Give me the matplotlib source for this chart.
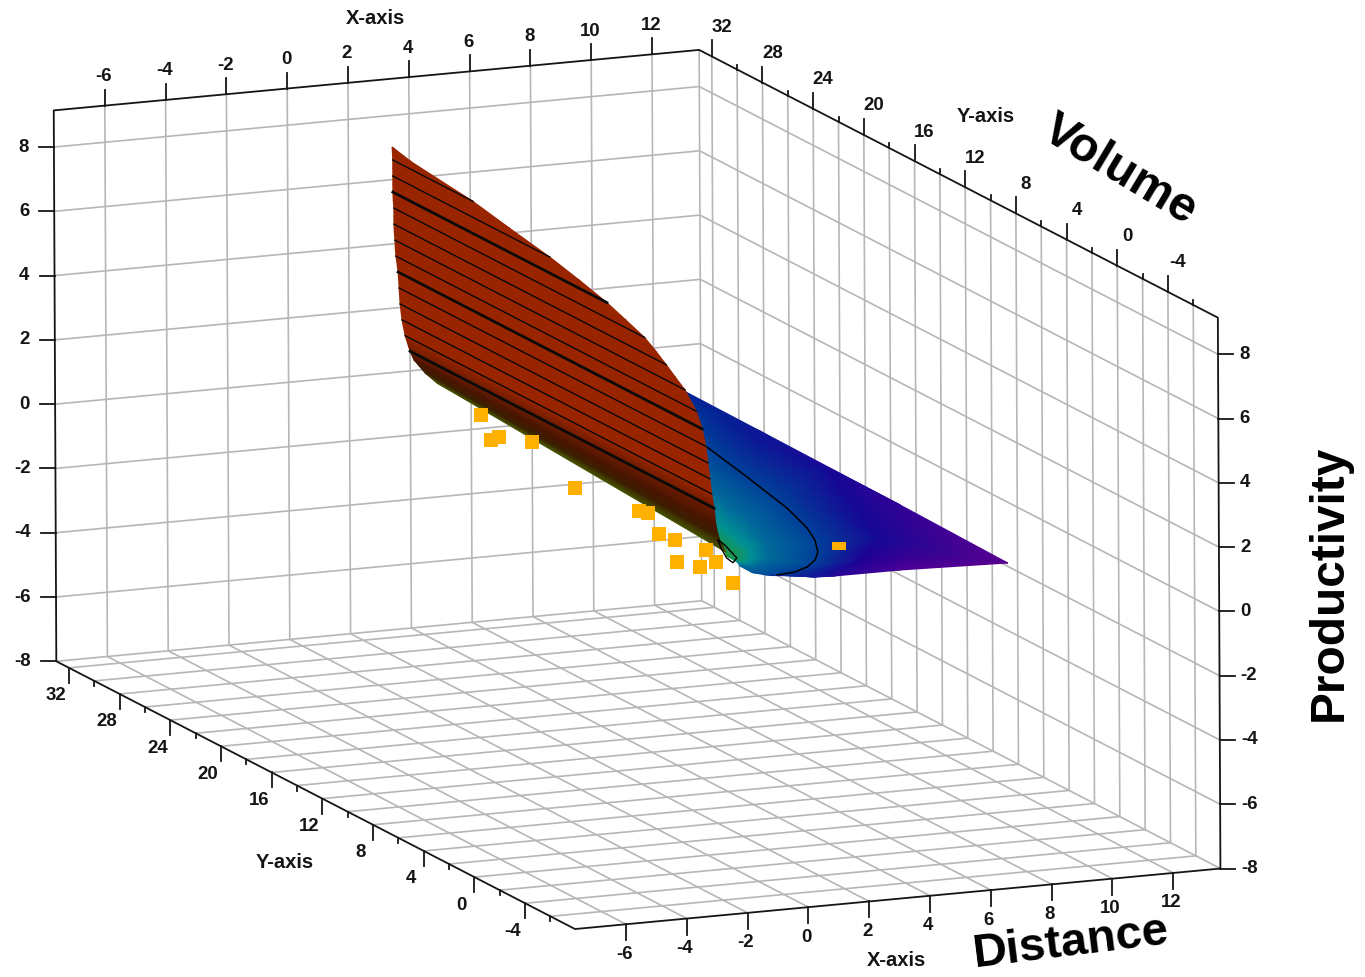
import numpy as np
import matplotlib
matplotlib.use('Agg')
import matplotlib.pyplot as plt
from matplotlib.colors import LinearSegmentedColormap, Normalize

plt.rcParams['font.family'] = ['Liberation Sans', 'DejaVu Sans']

# Axis ranges and ticks
x_min, x_max = -7.68, 13.55
y_min, y_max = -7.94, 33.0
z_min, z_max = -8.0, 9.14
x_ticks = [-6, -4, -2, 0, 2, 4, 6, 8, 10, 12]
y_major = [32, 28, 24, 20, 16, 12, 8, 4, 0, -4]
y_minor = [30, 26, 22, 18, 14, 10, 6, 2, -2, -6]
z_ticks = [-8, -6, -4, -2, 0, 2, 4, 6, 8]

# Upper sheet: one row per height, each row runs along y
sheet_z = [7.9, 7.75, 7.5, 7.25, 7.0, 6.75, 6.5, 6.25, 6.0, 5.75, 5.5, 5.25, 5.0, 4.75, 4.5,
           4.0, 3.5, 3.0, 2.5, 2.0, 1.5, 1.25, 1.1, 1.0]
sheet_x_left = [1.90, 1.91, 1.92, 1.92, 1.92, 1.92, 1.92, 1.93, 1.95, 1.95, 1.95, 1.96, 1.98, 1.99, 2.01,
                2.08, 2.11, 2.14, 2.20, 2.30, 2.46, 2.53, 2.40, 2.36]
sheet_y_left = [29.3, 29.3, 29.3, 29.3, 29.3, 29.3, 29.3, 29.3, 29.3, 29.3, 29.3, 29.3, 29.3, 29.3, 29.3,
                29.3, 29.3, 29.3, 29.3, 29.3, 29.3, 29.16, 27.97, 26.95]
sheet_x_right = [1.90, 1.91, 1.92, 1.92, 1.92, 1.92, 1.92, 1.93, 1.95, 1.95, 1.95, 1.96, 1.98, 1.99, 2.01,
                 2.08, 2.11, 2.14, 2.20, 2.30, 2.46, 2.04, 1.68, 1.29]
sheet_y_right = [29.2, 27.85, 22.96, 20.04, 16.9, 14.52, 12.4, 10.9, 9.5, 8.6, 7.8, 7.1, 6.4, 6.0, 5.6,
                 5.3, 5.1, 5.0, 5.0, 5.1, 5.3, 4.15, 3.05, 1.57]
thin_levels = [7.5, 7.0, 6.0, 5.5, 5.0, 4.5, 3.5, 3.0, 2.5, 2.0]
thick_levels = [6.5, 4.0, 1.5]

# Lower sheet: rings (rows) around the fold, rays (columns) fanning out
lower_x = [
    [1.13, 1.13, 1.13, 1.13, 1.13, 1.13, 1.13],
    [2.54, 2.76, 2.55, 2.30, 1.81, 1.40, 1.24],
    [4.35, 4.42, 3.98, 3.30, 2.57, 1.78, 1.36],
    [7.55, 6.75, 6.38, 5.04, 3.91, 2.34, 1.60],
    [9.13, 9.31, 9.78, 7.44, 5.81, 3.50, 1.94],
    [9.81, 9.84, 9.94, 10.07, 6.59, 4.25, 2.15],
]
lower_y = [
    [1.09, 1.09, 1.09, 1.09, 1.09, 1.09, 1.09],
    [5.65, 5.56, 4.12, 2.24, 0.92, 0.34, 0.56],
    [10.95, 9.70, 6.52, 3.30, 1.33, 0.45, 0.63],
    [19.04, 14.19, 9.92, 3.47, 1.06, 0.06, 0.27],
    [23.39, 18.76, 14.12, 4.33, 1.67, -0.16, 0.21],
    [25.18, 19.40, 8.58, 0.39, 0.54, 0.06, 0.16],
]
lower_z = [
    [0.98, 0.98, 0.98, 0.98, 0.98, 0.98, 0.98],
    [0.9, 0.9, 0.9, 0.9, 0.9, 0.9, 0.9],
    [0.75, 0.75, 0.75, 0.75, 0.75, 0.75, 0.75],
    [0.5, 0.5, 0.5, 0.5, 0.5, 0.5, 0.6],
    [0.44, 0.4, 0.37, 0.36, 0.33, 0.38, 0.52],
    [0.42, 0.38, 0.27, 0.12, 0.18, 0.3, 0.48],
]

# Contours on the lower sheet
contour_05_x = [7.29, 6.79, 6.23, 5.71, 5.28, 4.72, 4.21, 3.61, 3.00, 2.34]
contour_05_y = [17.47, 13.10, 8.61, 5.77, 4.12, 2.54, 1.54, 0.73, 0.23, 0.06]
contour_10_x = [1.72, 1.64, 1.27, 0.91, 0.99, 1.37, 1.72]
contour_10_y = [3.22, 2.49, 0.66, 0.10, 0.79, 2.15, 3.22]

# Scatter points
points_x = [3.58, 2.92, 2.51, 3.57, 2.28, 2.82, 2.95, 2.14, 2.24, 1.13, 2.58, 2.22, 1.50, 1.54]
points_y = [26.40, 23.41, 23.08, 22.36, 15.89, 12.13, 11.68, 8.91, 7.86, 5.07, 6.24, 4.60, 4.15, 1.64]
points_z = [0.0] * 14
hidden_x, hidden_y, hidden_z = [6.49], [5.14], [0.0]

# Height colours
cmap_z = [0.1, 0.2, 0.33, 0.42, 0.5, 0.75, 0.9, 0.98, 1.0, 1.1, 1.25, 1.5, 2.0, 8.0]
cmap_c = ['#5c0090', '#44009a', '#1c0096', '#002a96', '#00509a', '#006c9a', '#009a92',
          '#2a9a20', '#4a5000', '#3a1c00', '#4a1500', '#6e1c00', '#992500', '#992500']
norm = Normalize(0.1, 8.0)
cmap = LinearSegmentedColormap.from_list('height', [(norm(z), c) for z, c in zip(cmap_z, cmap_c)])


def project(x, y, z):
    # the chart is an orthographic view, so three axis vectors are enough
    x, y, z = np.asarray(x, float), np.asarray(y, float), np.asarray(z, float)
    sx = 706.7 + 30.4 * x - 12.67 * y - 0.15 * z
    sy = 598.1 - 2.85 * x - 6.54 * y - 32.14 * z
    return sx, sy


def line3d(x, y, z, **kw):
    sx, sy = project(x, y, z)
    ax.plot(sx, sy, solid_capstyle='round', **kw)


fig = plt.figure(figsize=(13.65, 9.77), dpi=100)
ax = fig.add_axes([0, 0, 1, 1])
ax.set_xlim(0, 1365)
ax.set_ylim(977, 0)
ax.axis('off')

grid = dict(color='#b6b6b6', lw=1.2, zorder=1)
frame = dict(color='#151515', lw=1.3, zorder=2)
tick_font = dict(fontsize=13.4, fontweight='bold', color='#151515', ha='center', va='center')

# Grid on the two back walls and the floor
for xt in x_ticks:
    line3d([xt, xt], [y_max, y_max], [z_min, z_max], **grid)
    line3d([xt, xt], [y_min, y_max], [z_min, z_min], **grid)
for yt in y_major + y_minor:
    line3d([x_max, x_max], [yt, yt], [z_min, z_max], **grid)
    line3d([x_min, x_max], [yt, yt], [z_min, z_min], **grid)
for zt in z_ticks:
    line3d([x_min, x_max, x_max], [y_max, y_max, y_min], [zt, zt, zt], **grid)
line3d([x_max, x_max], [y_max, y_max], [z_min, z_max], **grid)

# Frame
line3d([x_min, x_min, x_max, x_max, x_max], [y_max, y_max, y_max, y_min, y_min],
       [z_min, z_max, z_max, z_max, z_min], **frame)
line3d([x_min, x_min, x_max], [y_max, y_min, y_min], [z_min, z_min, z_min], **frame)

# Ticks and labels
for xt in x_ticks:
    sx, sy = project(xt, y_max, z_max)
    ax.plot([sx, sx], [sy, sy - 16], **frame)
    ax.text(sx - 1, sy - 29, str(xt), **tick_font)
    sx, sy = project(xt, y_min, z_min)
    ax.plot([sx, sx], [sy, sy + 16], **frame)
    ax.text(sx - 2, sy + 30, str(xt), **tick_font)
for yt in y_major:
    sx, sy = project(x_min, yt, z_min)
    ax.plot([sx, sx], [sy, sy + 15], **frame)
    ax.text(sx - 13, sy + 28, str(yt), **tick_font)
    sx, sy = project(x_max, yt, z_max)
    ax.plot([sx, sx], [sy, sy - 16], **frame)
    ax.text(sx + 10, sy - 29, str(yt), **tick_font)
for yt in y_minor:
    sx, sy = project(x_min, yt, z_min)
    ax.plot([sx, sx], [sy, sy + 5], **frame)
    sx, sy = project(x_max, yt, z_max)
    ax.plot([sx, sx], [sy, sy - 5], **frame)
for zt in z_ticks:
    sx, sy = project(x_min, y_max, zt)
    ax.plot([sx, sx - 15], [sy, sy], **frame)
    ax.text(sx - 25, sy, str(zt), fontsize=13.4, fontweight='bold', color='#151515', ha='right', va='center')
    sx, sy = project(x_max, y_min, zt)
    ax.plot([sx, sx + 15], [sy, sy], **frame)
    ax.text(sx + 21, sy, str(zt), fontsize=13.4, fontweight='bold', color='#151515', ha='left', va='center')

# Axis names
for name, px, py in [('X-axis', 375, 18), ('X-axis', 896, 960), ('Y-axis', 986, 117), ('Y-axis', 285, 863)]:
    ax.text(px, py, name, fontsize=14.5, fontweight='bold', color='#151515', ha='center', va='center')
ax.text(1120, 170, 'Volume', fontsize=35, fontweight='bold', rotation=-31, ha='center', va='center', color='black')
ax.text(1071, 943, 'Distance', fontsize=34, fontweight='bold', rotation=7, ha='center', va='center', color='black')
ax.text(1329, 583, 'Productivity', fontsize=34.4, fontweight='bold', rotation=90, ha='center', va='center', color='black')

# Lower sheet
lx, ly = project(lower_x, lower_y, lower_z)
ax.pcolormesh(lx, ly, np.array(lower_z), shading='gouraud', cmap=cmap, norm=norm, zorder=3)
line3d(contour_05_x, contour_05_y, [0.5] * len(contour_05_x), color='black', lw=1.1, zorder=4)

# Upper sheet
sheet_rows = np.array(sheet_z)
sx_l, sy_l = project(sheet_x_left, sheet_y_left, sheet_rows)
sx_r, sy_r = project(sheet_x_right, sheet_y_right, sheet_rows)
ax.pcolormesh(np.column_stack([sx_l, sx_r]), np.column_stack([sy_l, sy_r]),
              np.column_stack([sheet_rows, sheet_rows]), shading='gouraud', cmap=cmap, norm=norm, zorder=5)
for i, level in enumerate(sheet_z):
    if level in thin_levels or level in thick_levels:
        ax.plot([sx_l[i], sx_r[i]], [sy_l[i], sy_r[i]], color='#0a0a0a',
                lw=2.0 if level in thick_levels else 1.0, zorder=6)
line3d(contour_10_x, contour_10_y, [1.0] * len(contour_10_x), color='black', lw=1.0, zorder=6)

# Points
px, py = project(points_x, points_y, points_z)
ax.scatter(px, py, marker='s', s=88, color='#ffb000', linewidths=0, zorder=7)
px, py = project(hidden_x, hidden_y, hidden_z)
ax.scatter(px, py, marker=[(-1, -0.6), (1, -0.6), (1, 0.6), (-1, 0.6)], s=88, color='#ffb000', linewidths=0, zorder=7)

fig.savefig('out.png', dpi=100)
